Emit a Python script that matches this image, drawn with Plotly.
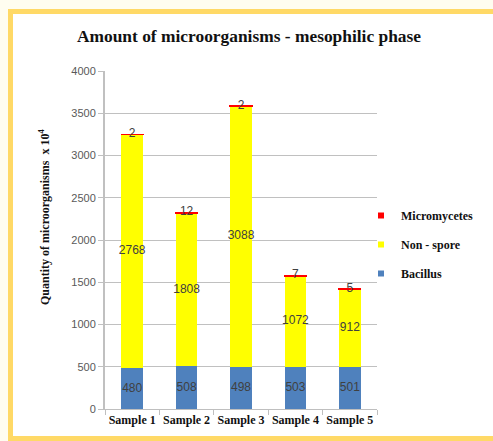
import plotly.graph_objects as go

samples = ["Sample 1", "Sample 2", "Sample 3", "Sample 4", "Sample 5"]
bacillus = [480, 508, 498, 503, 501]
non_spore = [2768, 1808, 3088, 1072, 912]
micromycetes = [2, 12, 2, 7, 5]

y_ticks = [0, 500, 1000, 1500, 2000, 2500, 3000, 3500, 4000]

C_BAC = "#4F81BD"
C_NON = "#FFFF00"
C_MIC = "#FF0000"
SERIF = "Liberation Serif"
SANS = "Liberation Sans"
LABEL_COLOR = "#404040"

W, H = 493, 441
ML, MR, MT, MB = 105, 116, 71, 32
PW, PH = W - ML - MR, H - MT - MB


def px_x(p):
    return (p - ML) / PW


def px_y(p):
    return (H - MB - p) / PH


fig = go.Figure()

fig.add_bar(x=samples, y=bacillus, name="Bacillus", marker_color=C_BAC,
            marker_line_width=0, showlegend=False)
fig.add_bar(x=samples, y=non_spore, name="Non - spore", marker_color=C_NON,
            marker_line_width=0, showlegend=False)
fig.add_bar(x=samples, y=micromycetes, name="Micromycetes", marker_color=C_MIC,
            marker_line=dict(color=C_MIC, width=1.5), showlegend=False)

# value labels centred on each segment
bac_mid = [b / 2 for b in bacillus]
non_mid = [b + n / 2 for b, n in zip(bacillus, non_spore)]
tops = [b + n + m for b, n, m in zip(bacillus, non_spore, micromycetes)]
for ys, vals in [(bac_mid, bacillus), (non_mid, non_spore), (tops, micromycetes)]:
    fig.add_scatter(x=samples, y=ys, mode="text", text=[str(v) for v in vals],
                    textposition="middle center",
                    textfont=dict(family=SANS, size=12, color=LABEL_COLOR),
                    showlegend=False, hoverinfo="skip", cliponaxis=False)

# legend entries with small square keys
for name, col, grp in [("Micromycetes", C_MIC, "a"), ("Non - spore", C_NON, "b"),
                       ("Bacillus", C_BAC, "c")]:
    fig.add_scatter(x=[None], y=[None], mode="markers", name=f"<b>{name}</b>",
                    legendgroup=grp,
                    marker=dict(symbol="square", size=6, color=col))

fig.update_layout(
    width=W, height=H,
    margin=dict(l=ML, r=MR, t=MT, b=MB, pad=0),
    barmode="stack", bargap=0.6,
    paper_bgcolor="#FFFDF0", plot_bgcolor="rgba(0,0,0,0)",
    title=dict(text="<b>Amount of microorganisms - mesophilic phase</b>",
               font=dict(family=SERIF, size=17.4, color="#111111"),
               x=249 / W, xref="container", xanchor="center",
               y=1 - 36 / H, yref="container", yanchor="middle"),
    legend=dict(x=px_x(361), y=px_y(201), xanchor="left", yanchor="top",
                traceorder="grouped", tracegroupgap=10,
                font=dict(family=SERIF, size=12, color="#111111"),
                bgcolor="rgba(0,0,0,0)"),
    xaxis=dict(type="category", showgrid=False, showline=True, linecolor="#BFBFBF",
               linewidth=1, ticks="outside", tickson="boundaries", ticklen=5,
               tickcolor="#BFBFBF", tickvals=samples, tickangle=0,
               ticktext=[f"<b>{s}</b>" for s in samples],
               tickfont=dict(family=SERIF, size=12, color="#111111"),
               automargin=False, fixedrange=True),
    yaxis=dict(range=[0, 4000], tickvals=y_ticks, showgrid=True, gridcolor="#C0C0C0",
               gridwidth=1, showline=True, linecolor="#C0C0C0", linewidth=2,
               ticks="outside", ticklen=5, tickcolor="#C0C0C0",
               tickfont=dict(family=SANS, size=11, color="#595959"),
               zeroline=False, automargin=False, fixedrange=True),
    shapes=[
        dict(type="rect", xref="paper", yref="paper", layer="below",
             x0=px_x(8), x1=px_x(W + 10), y0=px_y(H + 10), y1=px_y(9),
             fillcolor="#FFD966", line_width=0),
        dict(type="rect", xref="paper", yref="paper", layer="below",
             x0=px_x(13), x1=px_x(W + 10), y0=px_y(436), y1=px_y(14),
             fillcolor="#FFFFFF", line_width=0),
    ],
    annotations=[
        dict(text="<b>Quantity of microorganisms  x 10<sup>4</sup></b>",
             xref="paper", yref="paper", x=px_x(44), y=px_y(217),
             xanchor="center", yanchor="middle", textangle=-90, showarrow=False,
             font=dict(family=SERIF, size=12, color="#111111")),
    ],
)

fig.write_html("out.html")
